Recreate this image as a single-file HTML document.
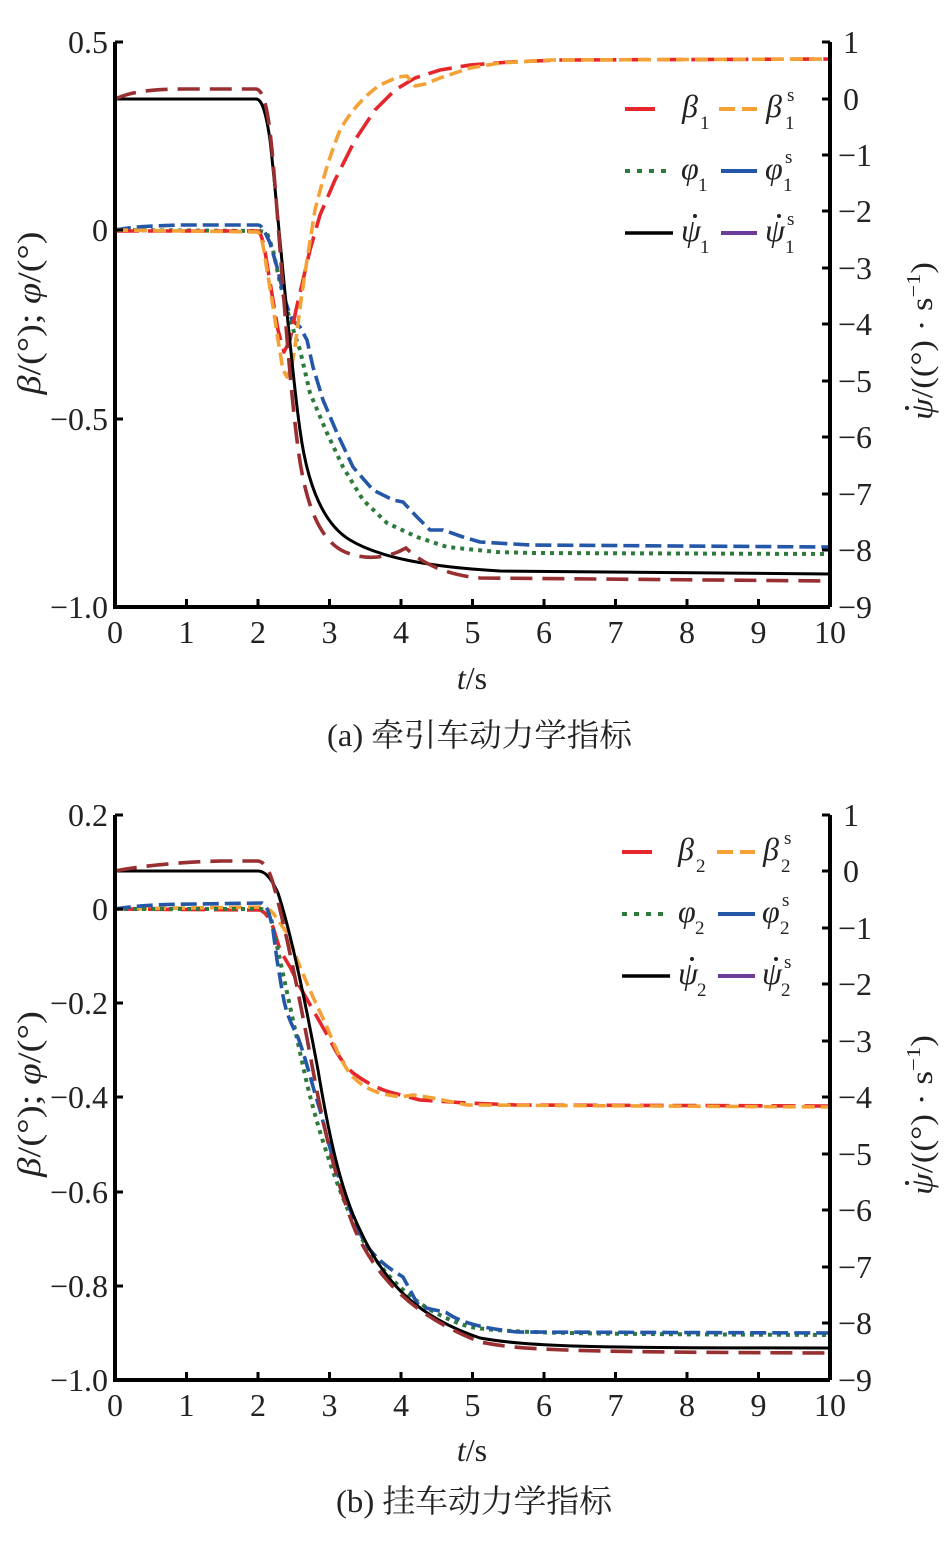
<!DOCTYPE html>
<html><head><meta charset="utf-8"><style>
html,body{margin:0;padding:0;background:#fff;}
svg{display:block;}
text{font-family:"Liberation Serif","Noto Serif CJK SC",serif;fill:#222;}
.cjk{font-family:"Liberation Serif","Noto Serif CJK SC","Noto Sans CJK SC",serif;}
.tk{font-size:32px;}
</style></head><body>
<svg width="945" height="1549" viewBox="0 0 945 1549" xmlns="http://www.w3.org/2000/svg">
<rect width="945" height="1549" fill="#fff"/>

<!-- ================= CHART A ================= -->
<g fill="none" stroke-linejoin="round">
  <!-- green dotted phi1 -->
  <path d="M115,230 L258,231 C262,231 264,232 267,233 L273,250 L280,283 L290,320 L300,350 L310,393 L327,433 L343,467 L363,500 L387,523 L417,537 L447,547 L497,552 L530,553 L830,554" stroke="#2e7a3c" stroke-width="4" stroke-dasharray="4 5"/>
  <!-- blue dashed phi1s -->
  <path d="M115,230 C130,227 150,226 180,225 L258,225 C262,225 265,232 270,243 L277,267 L285,300 L292,320 L300,327 L307,340 L313,367 L323,400 L337,433 L353,467 L373,490 L393,500 L403,502 L417,517 L430,530 L443,530 L463,537 L480,542 L530,545 L830,547" stroke="#2457a8" stroke-width="3.6" stroke-dasharray="16 6"/>
  <!-- red beta1 -->
  <path d="M115,231 L258,231 C262,233 265,250 268,270 L273,300 L278,330 L284,352 L290,340 L296,310 L303,280 L310,250 L320,215 L335,180 L355,140 L375,110 L395,90 L415,78 L440,70 L470,65 L510,62 L560,60 L830,59" stroke="#e5262c" stroke-width="3.6" stroke-dasharray="24 9"/>
  <!-- orange beta1s -->
  <path d="M115,230 L258,232 C262,236 264,250 267,270 L272,300 L278,340 L283,370 L287,377 L292,365 L296,340 L301,300 L307,260 L315,210 C320,190 328,160 340,130 C350,112 365,95 380,85 L398,77 L407,76 L415,86 L425,84 L440,78 L470,68 L500,63 L550,60 L830,59" stroke="#f4a236" stroke-width="3.6" stroke-dasharray="13 6"/>
  <!-- black psi1 -->
  <path d="M115,99 L256,99 C262,99 266,112 270,140 C276,190 290,360 300,430 C308,490 325,525 350,540 C380,558 430,567 500,571 L830,574" stroke="#000" stroke-width="3"/>
  <!-- brown psi1s -->
  <path d="M115,99 C130,92 150,89 185,89 L256,89 C264,90 268,110 272,150 C280,240 288,370 297,440 C304,500 318,540 345,552 C365,560 382,558 398,552 L406,548 C420,562 445,575 480,578 L830,581" stroke="#983032" stroke-width="3.6" stroke-dasharray="22 10"/>
</g>

<!-- axes A -->
<g stroke="#000" stroke-width="4" fill="none">
  <path d="M115,42 L115,607 L830,607 M830,42 L830,607"/>
  <path d="M115,42 H123 M115,230 H123 M115,419 H123" stroke-width="3"/>
  <path d="M830,42 H822 M830,99 H822 M830,155 H822 M830,211 H822 M830,268 H822 M830,324 H822 M830,381 H822 M830,437 H822 M830,494 H822 M830,550 H822" stroke-width="3"/>
  <path d="M186.5,607 V599 M258,607 V599 M329.5,607 V599 M401,607 V599 M472.5,607 V599 M544,607 V599 M615.5,607 V599 M687,607 V599 M758.5,607 V599" stroke-width="3"/>
</g>
<g class="tk" text-anchor="end">
  <text x="108" y="53">0.5</text>
  <text x="108" y="241">0</text>
  <text x="108" y="430">−0.5</text>
  <text x="108" y="618">−1.0</text>
</g>
<g class="tk" text-anchor="start">
  <text x="843" y="53">1</text>
  <text x="843" y="110">0</text>
  <text x="838" y="166">−1</text>
  <text x="838" y="222">−2</text>
  <text x="838" y="279">−3</text>
  <text x="838" y="335">−4</text>
  <text x="838" y="392">−5</text>
  <text x="838" y="448">−6</text>
  <text x="838" y="505">−7</text>
  <text x="838" y="561">−8</text>
  <text x="838" y="618">−9</text>
</g>
<g class="tk" text-anchor="middle">
  <text x="115" y="643">0</text><text x="186.5" y="643">1</text><text x="258" y="643">2</text>
  <text x="329.5" y="643">3</text><text x="401" y="643">4</text><text x="472.5" y="643">5</text>
  <text x="544" y="643">6</text><text x="615.5" y="643">7</text><text x="687" y="643">8</text>
  <text x="758.5" y="643">9</text><text x="830" y="643">10</text>
</g>
<text x="472" y="689" font-size="32" text-anchor="middle"><tspan font-style="italic">t</tspan>/s</text>
<text class="cjk" x="327" y="746" font-size="32" textLength="305" lengthAdjust="spacingAndGlyphs">(a) 牵引车动力学指标</text>
<text transform="translate(40,313) rotate(-90)" font-size="33" text-anchor="middle" textLength="163" lengthAdjust="spacingAndGlyphs"><tspan font-style="italic">β</tspan>/(°); <tspan font-style="italic">φ</tspan>/(°)</text>
<g transform="translate(932,341) rotate(-90)">
  <text x="-79" y="0" font-size="31" textLength="158" lengthAdjust="spacingAndGlyphs"><tspan font-style="italic">ψ</tspan>/((°) · s<tspan font-size="20" dy="-12">−1</tspan><tspan dy="12">)</tspan></text>
  <circle cx="-67" cy="-25" r="2" fill="#222"/>
</g>

<!-- legend A -->
<g fill="none" stroke-width="4">
  <path d="M625,109 H655" stroke="#e5262c"/>
  <path d="M719,109 H735 M742,109 H757" stroke="#f4a236"/>
  <path d="M625,171 H666" stroke="#2e7a3c" stroke-dasharray="5 7"/>
  <path d="M721,171 H757" stroke="#2457a8"/>
  <path d="M625,233 H673" stroke="#000" stroke-width="3.5"/>
  <path d="M721,233 H757" stroke="#6a3d9a"/>
</g>
<g font-size="32" font-style="italic">
  <text x="682" y="117">β</text><text x="766" y="117">β</text>
  <text x="681" y="179">φ</text><text x="765" y="179">φ</text>
  <text x="681" y="241">ψ</text><text x="765" y="241">ψ</text>
</g>
<circle cx="695" cy="216" r="2" fill="#222"/>
<circle cx="779" cy="216" r="2" fill="#222"/>
<g font-size="19">
  <text x="700" y="129">1</text><text x="785" y="129">1</text><text x="787" y="101">s</text>
  <text x="698" y="191">1</text><text x="783" y="191">1</text><text x="785" y="163">s</text>
  <text x="700" y="253">1</text><text x="785" y="253">1</text><text x="787" y="225">s</text>
</g>

<!-- ================= CHART B ================= -->
<g fill="none" stroke-linejoin="round">
  <!-- red beta2 -->
  <path d="M115,909 L260,910 C266,912 270,920 273,927 L280,950 L290,967 L300,987 L317,1017 L330,1040 C335,1050 342,1063 353,1073 C365,1082 378,1089 393,1093 L420,1100 L467,1103 L517,1105 L830,1106" stroke="#e5262c" stroke-width="3.6" stroke-dasharray="24 9"/>
  <!-- orange beta2s -->
  <path d="M115,909 L263,907 C267,908 270,910 273,913 L287,933 L300,967 L313,997 L327,1027 C333,1042 342,1065 353,1077 C362,1086 370,1090 383,1094 L400,1097 L413,1095 L433,1098 L467,1105 L830,1107" stroke="#f4a236" stroke-width="3.6" stroke-dasharray="13 6"/>
  <!-- green phi2 -->
  <path d="M115,909 L260,909 C266,909 268,912 271,918 C280,960 295,1030 305,1075 C315,1120 335,1185 358,1232 C385,1280 420,1312 470,1327 C510,1333 560,1334 830,1335" stroke="#2e7a3c" stroke-width="4" stroke-dasharray="4 5"/>
  <!-- blue phi2s -->
  <path d="M115,909 C140,905 170,904 200,904 L262,903 C267,905 270,915 273,930 L277,960 L282,990 C285,1010 290,1022 297,1035 C305,1055 312,1085 320,1110 C330,1150 345,1205 365,1243 C378,1262 392,1270 403,1277 L417,1303 C425,1310 440,1310 447,1313 C460,1322 480,1328 517,1332 L830,1333" stroke="#2457a8" stroke-width="3.6" stroke-dasharray="16 6"/>
  <!-- black psi2 -->
  <path d="M115,871 L258,871 C266,871 272,880 278,893 C290,930 305,1000 318,1070 C328,1130 340,1190 360,1230 C385,1285 420,1318 480,1338 C530,1347 600,1348 830,1348" stroke="#000" stroke-width="3"/>
  <!-- brown psi2s -->
  <path d="M115,871 C140,866 180,862 220,861 L258,861 C265,862 269,870 273,883 C285,925 300,1000 312,1065 C322,1120 335,1180 355,1230 C380,1285 420,1318 480,1342 C520,1350 560,1352 830,1353" stroke="#983032" stroke-width="3.6" stroke-dasharray="22 10"/>
</g>

<!-- axes B -->
<g stroke="#000" stroke-width="4" fill="none">
  <path d="M115,815 L115,1380 L830,1380 M830,815 L830,1380"/>
  <path d="M115,815 H123 M115,909 H123 M115,1003 H123 M115,1097 H123 M115,1192 H123 M115,1286 H123" stroke-width="3"/>
  <path d="M830,815 H822 M830,871 H822 M830,928 H822 M830,984 H822 M830,1041 H822 M830,1097 H822 M830,1154 H822 M830,1210 H822 M830,1267 H822 M830,1323 H822" stroke-width="3"/>
  <path d="M186.5,1380 V1372 M258,1380 V1372 M329.5,1380 V1372 M401,1380 V1372 M472.5,1380 V1372 M544,1380 V1372 M615.5,1380 V1372 M687,1380 V1372 M758.5,1380 V1372" stroke-width="3"/>
</g>
<g class="tk" text-anchor="end">
  <text x="108" y="826">0.2</text>
  <text x="108" y="920">0</text>
  <text x="108" y="1014">−0.2</text>
  <text x="108" y="1108">−0.4</text>
  <text x="108" y="1203">−0.6</text>
  <text x="108" y="1297">−0.8</text>
  <text x="108" y="1391">−1.0</text>
</g>
<g class="tk" text-anchor="start">
  <text x="843" y="826">1</text>
  <text x="843" y="882">0</text>
  <text x="838" y="939">−1</text>
  <text x="838" y="995">−2</text>
  <text x="838" y="1052">−3</text>
  <text x="838" y="1108">−4</text>
  <text x="838" y="1165">−5</text>
  <text x="838" y="1221">−6</text>
  <text x="838" y="1278">−7</text>
  <text x="838" y="1334">−8</text>
  <text x="838" y="1391">−9</text>
</g>
<g class="tk" text-anchor="middle">
  <text x="115" y="1416">0</text><text x="186.5" y="1416">1</text><text x="258" y="1416">2</text>
  <text x="329.5" y="1416">3</text><text x="401" y="1416">4</text><text x="472.5" y="1416">5</text>
  <text x="544" y="1416">6</text><text x="615.5" y="1416">7</text><text x="687" y="1416">8</text>
  <text x="758.5" y="1416">9</text><text x="830" y="1416">10</text>
</g>
<text x="472" y="1461" font-size="32" text-anchor="middle"><tspan font-style="italic">t</tspan>/s</text>
<text class="cjk" x="336" y="1512" font-size="32" textLength="276" lengthAdjust="spacingAndGlyphs">(b) 挂车动力学指标</text>
<text transform="translate(40,1094) rotate(-90)" font-size="33" text-anchor="middle" textLength="166" lengthAdjust="spacingAndGlyphs"><tspan font-style="italic">β</tspan>/(°); <tspan font-style="italic">φ</tspan>/(°)</text>
<g transform="translate(932,1115) rotate(-90)">
  <text x="-80" y="0" font-size="31" textLength="160" lengthAdjust="spacingAndGlyphs"><tspan font-style="italic">ψ</tspan>/((°) · s<tspan font-size="20" dy="-12">−1</tspan><tspan dy="12">)</tspan></text>
  <circle cx="-68" cy="-25" r="2" fill="#222"/>
</g>

<!-- legend B -->
<g fill="none" stroke-width="4">
  <path d="M622,852 H652" stroke="#e5262c"/>
  <path d="M717,852 H733 M740,852 H755" stroke="#f4a236"/>
  <path d="M622,914 H663" stroke="#2e7a3c" stroke-dasharray="5 7"/>
  <path d="M718,914 H755" stroke="#2457a8"/>
  <path d="M622,976 H670" stroke="#000" stroke-width="3.5"/>
  <path d="M718,976 H755" stroke="#6a3d9a"/>
</g>
<g font-size="32" font-style="italic">
  <text x="678" y="860">β</text><text x="763" y="860">β</text>
  <text x="678" y="922">φ</text><text x="762" y="922">φ</text>
  <text x="678" y="984">ψ</text><text x="762" y="984">ψ</text>
</g>
<circle cx="692" cy="959" r="2" fill="#222"/>
<circle cx="776" cy="959" r="2" fill="#222"/>
<g font-size="19">
  <text x="696" y="872">2</text><text x="781" y="872">2</text><text x="784" y="844">s</text>
  <text x="695" y="934">2</text><text x="780" y="934">2</text><text x="782" y="906">s</text>
  <text x="697" y="996">2</text><text x="781" y="996">2</text><text x="784" y="968">s</text>
</g>
</svg>
</body></html>
